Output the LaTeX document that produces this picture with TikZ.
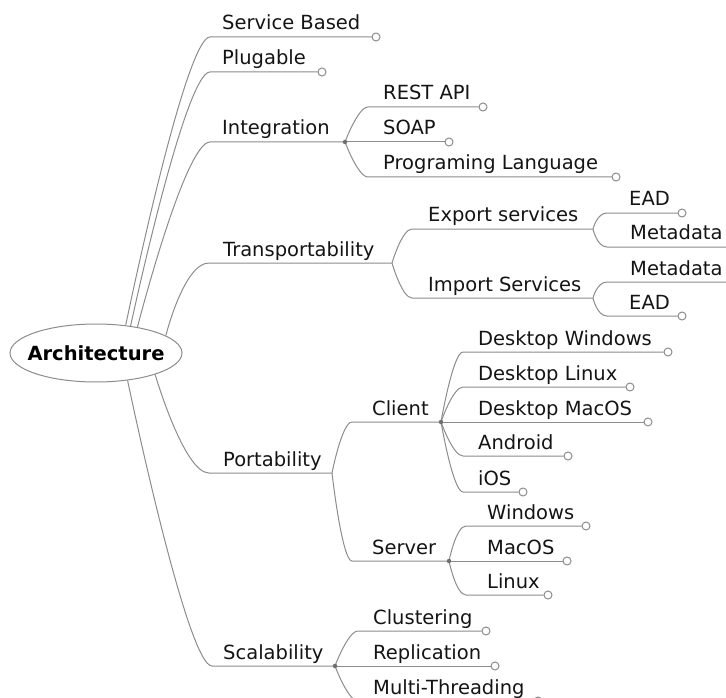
\documentclass[tikz,border=0pt]{standalone}
\usepackage{fontspec}
\setmainfont{DejaVu Sans}
\usetikzlibrary{shapes.geometric}
\definecolor{linegrey}{RGB}{140,140,140}
\definecolor{dotgrey}{RGB}{110,110,110}
\definecolor{inkcol}{RGB}{20,20,20}
\tikzset{
  branch/.style={draw=linegrey, line width=1pt},
  topic/.style={anchor=base west, inner sep=0pt, text=inkcol,
    font=\fontsize{19.5}{23}\selectfont},
  leafend/.style={circle, draw=linegrey, fill=white, line width=1pt,
    minimum size=8pt, inner sep=0pt},
  jdot/.style={circle, fill=dotgrey, minimum size=4.5pt, inner sep=0pt},
  rootnode/.style={ellipse, draw=linegrey, line width=1pt, fill=white,
    minimum width=172pt, minimum height=58pt, inner sep=0pt, text=black,
    font=\fontsize{19.5}{23}\selectfont\bfseries},
  bendA/.style={to path={.. controls (\tikztostart) and ([xshift=-25pt]\tikztotarget) .. (\tikztotarget)}},
  bendB/.style={to path={.. controls (\tikztostart) and ([xshift=-10pt]\tikztotarget) .. (\tikztotarget)}},
}
\begin{document}
\begin{tikzpicture}[x=1pt, y=-1pt]
\useasboundingbox (0,0) rectangle (726,698);
\clip (0,0) rectangle (726,698);

% ---------- central topic ----------
\node[rootnode] (root) at (96,353) {\makebox[0pt]{Architecture}};

% ---------- first level ----------
\coordinate (sbS) at (210,37);  \node[leafend] (sbE) at (376,37) {};
\node[topic] (sbT) at (222,30) {Service Based};
\coordinate (plS) at (210,72);  \node[leafend] (plE) at (322,72) {};
\node[topic] (plT) at (222,65) {Plugable};
\coordinate (inS) at (210,142); \coordinate (inJ) at (345,142);
\node[topic] (inT) at (222,135) {Integration};
\coordinate (trS) at (209,263); \coordinate (trJ) at (392,263);
\node[topic] (trT) at (223,256) {Transportability};
\coordinate (poS) at (209,473); \coordinate (poJ) at (332,473);
\node[topic] (poT) at (223,466) {Portability};
\coordinate (scS) at (212,666); \coordinate (scJ) at (335,666);
\node[topic] (scT) at (223,659) {Scalability};

\draw[branch] (root.43) to[bendA] (sbS) -- (sbE);
\draw[branch] (root.38) to[bendA] (plS) -- (plE);
\draw[branch] (root.32) to[bendA] (inS) -- (inJ);
\draw[branch] (root.14) to[bendA] (trS) -- (trJ);
\draw[branch] (root.-20) to[bendA] (poS) -- (poJ);
\draw[branch] (root.-41) to[bendA] (scS) -- (scJ);

% ---------- Integration ----------
\coordinate (reS) at (368,107); \node[leafend] (reE) at (483,107) {};
\node[topic] (reT) at (383,100) {REST API};
\node[leafend] (soE) at (449,142) {};
\node[topic] (soT) at (383,135) {SOAP};
\coordinate (prS) at (368,177); \node[leafend] (prE) at (616,177) {};
\node[topic] (prT) at (383,170) {Programing Language};
\draw[branch] (inJ) to[bendB] (reS) -- (reE);
\draw[branch] (inJ) -- (soE);
\draw[branch] (inJ) to[bendB] (prS) -- (prE);

% ---------- Transportability ----------
\coordinate (exS) at (412,229); \coordinate (exJ) at (593,229);
\node[topic] (exT) at (428,222) {Export services};
\coordinate (imS) at (412,298); \coordinate (imJ) at (593,298);
\node[topic] (imT) at (428,291) {Import Services};
\draw[branch] (trJ) to[bendB] (exS) -- (exJ);
\draw[branch] (trJ) to[bendB] (imS) -- (imJ);

\coordinate (exaS) at (607,213); \node[leafend] (exaE) at (682,213) {};
\node[topic] (exaT) at (629,206) {EAD};
\coordinate (exmS) at (607,247); \coordinate (exmE) at (732,247);
\node[topic] (exmT) at (630,240) {Metadata};
\draw[branch] (exJ) to[bendB] (exaS) -- (exaE);
\draw[branch] (exJ) to[bendB] (exmS) -- (exmE);

\coordinate (immS) at (607,282); \coordinate (immE) at (732,282);
\node[topic] (immT) at (630,275) {Metadata};
\coordinate (imaS) at (607,316); \node[leafend] (imaE) at (682,316) {};
\node[topic] (imaT) at (629,309) {EAD};
\draw[branch] (imJ) to[bendB] (immS) -- (immE);
\draw[branch] (imJ) to[bendB] (imaS) -- (imaE);

% ---------- Portability ----------
\coordinate (clS) at (352,422); \coordinate (clJ) at (441,422);
\node[topic] (clT) at (372,415) {Client};
\coordinate (svS) at (352,561); \coordinate (svJ) at (449,561);
\node[topic] (svT) at (372,554) {Server};
\draw[branch] (poJ) to[bendB] (clS) -- (clJ);
\draw[branch] (poJ) to[bendB] (svS) -- (svJ);

% client platforms
\coordinate (dwS) at (463,352); \node[leafend] (dwE) at (668,352) {};
\node[topic] (dwT) at (478,345) {Desktop Windows};
\coordinate (dlS) at (463,387); \node[leafend] (dlE) at (630,387) {};
\node[topic] (dlT) at (478,380) {Desktop Linux};
\node[leafend] (dmE) at (648,422) {};
\node[topic] (dmT) at (478,415) {Desktop MacOS};
\coordinate (anS) at (463,456); \node[leafend] (anE) at (568,456) {};
\node[topic] (anT) at (478,449) {Android};
\coordinate (ioS) at (463,492); \node[leafend] (ioE) at (523,492) {};
\node[topic] (ioT) at (478,485) {iOS};
\draw[branch] (clJ) to[bendB] (dwS) -- (dwE);
\draw[branch] (clJ) to[bendB] (dlS) -- (dlE);
\draw[branch] (clJ) -- (dmE);
\draw[branch] (clJ) to[bendB] (anS) -- (anE);
\draw[branch] (clJ) to[bendB] (ioS) -- (ioE);

% server platforms
\coordinate (wiS) at (466,526); \node[leafend] (wiE) at (586,526) {};
\node[topic] (wiT) at (487,519) {Windows};
\node[leafend] (maE) at (567,561) {};
\node[topic] (maT) at (487,554) {MacOS};
\coordinate (liS) at (466,595); \node[leafend] (liE) at (548,595) {};
\node[topic] (liT) at (487,588) {Linux};
\draw[branch] (svJ) to[bendB] (wiS) -- (wiE);
\draw[branch] (svJ) -- (maE);
\draw[branch] (svJ) to[bendB] (liS) -- (liE);

% ---------- Scalability ----------
\coordinate (cuS) at (358,631); \node[leafend] (cuE) at (486,631) {};
\node[topic] (cuT) at (373,624) {Clustering};
\node[leafend] (rpE) at (495,666) {};
\node[topic] (rpT) at (373,659) {Replication};
\coordinate (mtS) at (358,701); \node[leafend] (mtE) at (538,701) {};
\node[topic] (mtT) at (373,694) {Multi-Threading};
\draw[branch] (scJ) to[bendB] (cuS) -- (cuE);
\draw[branch] (scJ) -- (rpE);
\draw[branch] (scJ) to[bendB] (mtS) -- (mtE);

% junction dots where three or more branches fork
\node[jdot] (inDot) at (inJ) {};
\node[jdot] (clDot) at (clJ) {};
\node[jdot] (svDot) at (svJ) {};
\node[jdot] (scDot) at (scJ) {};
\end{tikzpicture}
\end{document}
